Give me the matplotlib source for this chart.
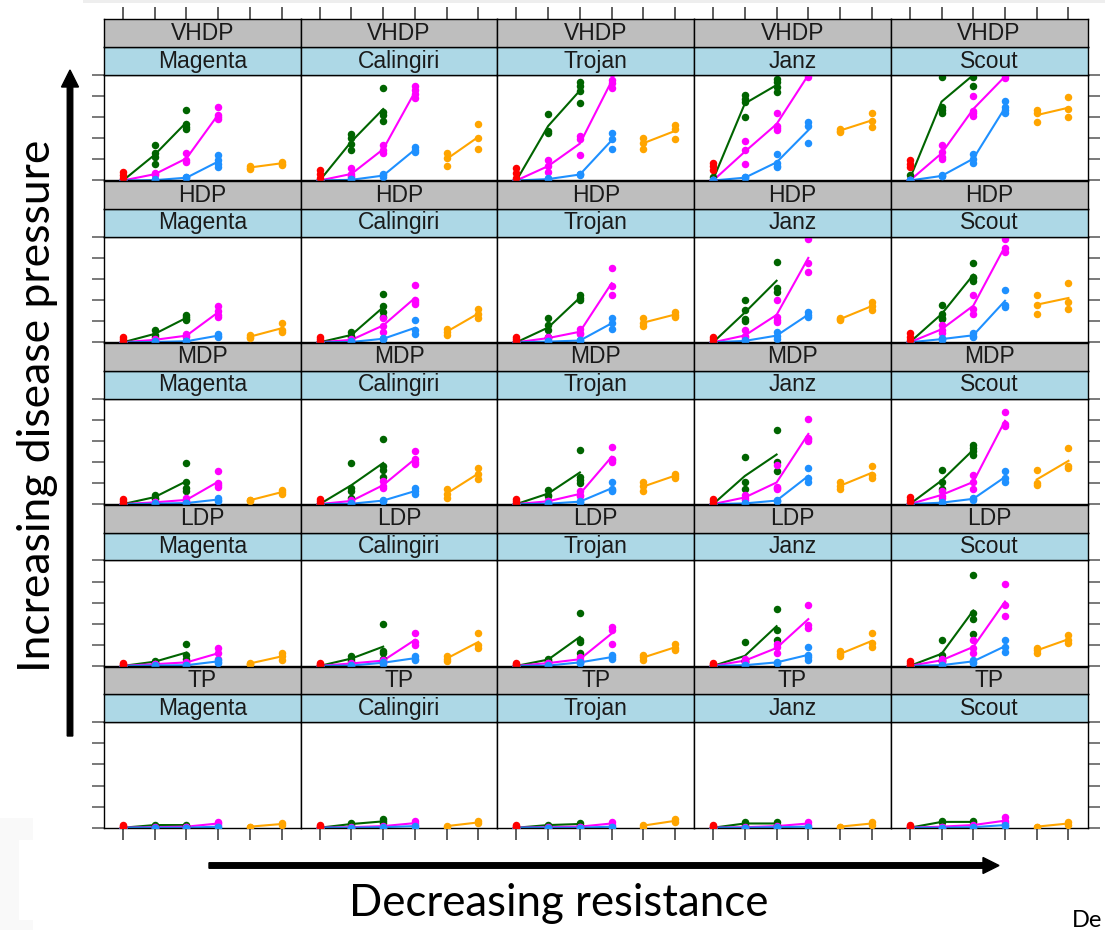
import matplotlib
matplotlib.use("Agg")
import matplotlib.pyplot as plt
import numpy as np
from matplotlib.patches import FancyArrow, Rectangle

# disease pressure levels (rows) and cultivars (columns)
levels = ["VHDP", "HDP", "MDP", "LDP", "TP"]
cultivars = ["Magenta", "Calingiri", "Trojan", "Janz", "Scout"]

# x positions of each treatment group
x_red = [1]
x_green = [1, 2, 3]
x_magenta = [1, 2, 3, 4]
x_blue = [1, 2, 3, 4]
x_orange = [5, 6]

# replicate values, per level -> per cultivar -> per x position
red = {
    "VHDP": [[[2, 5, 8]], [[2, 6, 10]], [[2, 7, 12]], [[10, 14, 17]], [[13, 16, 19]]],
    "HDP": [[[1, 3, 5]], [[1, 3, 5]], [[1, 3, 5]], [[1, 3, 5]], [[2, 5, 9]]],
    "MDP": [[[1, 3, 5]], [[1, 3, 5]], [[1, 3, 5]], [[1, 3, 5]], [[2, 4, 7]]],
    "LDP": [[[1, 2, 3]], [[1, 2, 3]], [[1, 2, 3]], [[1, 2, 3]], [[1, 3, 5]]],
    "TP": [[[1, 2, 3]], [[1, 2, 3]], [[1, 2, 3]], [[1, 2, 3]], [[1, 2, 3]]],
}

green = {
    "VHDP": [
        [[0, 0, 0], [34, 26, 22, 16], [67, 54, 51, 49]],
        [[0, 0, 0], [44, 40, 35, 29], [88, 65, 62, 56]],
        [[0, 0, 0], [63, 47, 45], [93, 90, 85, 73]],
        [[0, 0, 3], [81, 77, 74, 60], [96, 93, 89, 84]],
        [[5, 0, 0], [98, 70, 67, 64], [98, 90, 104, 108]],
    ],
    "HDP": [
        [[0, 0, 0], [12, 7, 5], [26, 24, 22, 21]],
        [[0, 0, 0], [10, 6, 5], [46, 34, 29, 24]],
        [[0, 0, 0], [23, 16, 12, 5], [45, 42, 40]],
        [[0, 0, 0], [40, 31, 20, 22], [76, 51, 48]],
        [[0, 0, 0], [35, 27, 23, 22], [75, 62, 61, 58]],
    ],
    "MDP": [
        [[0, 0, 0], [9, 6, 5], [39, 21, 15, 12]],
        [[0, 0, 0], [39, 15, 12, 6], [62, 36, 32, 26]],
        [[0, 0, 0], [13, 9, 8], [51, 26, 23, 20]],
        [[0, 0, 0], [45, 21, 14], [70, 40, 31]],
        [[0, 0, 0], [32, 21, 14], [56, 53, 50, 47]],
    ],
    "LDP": [
        [[0, 0, 0], [5, 4, 3], [21, 10, 7]],
        [[0, 0, 0], [9, 7, 5], [40, 14, 12, 7]],
        [[0, 0, 0], [7, 6, 5], [50, 25, 23, 12]],
        [[0, 0, 0], [23, 6, 4, 5], [54, 34, 25]],
        [[0, 0, 0], [25, 10, 6, 5], [86, 50, 44, 30]],
    ],
    "TP": [
        [[0, 0, 0], [2, 3], [2, 3]],
        [[0, 0, 0], [4, 3], [8, 6, 4]],
        [[0, 0, 0], [3, 2], [4, 3]],
        [[0, 0, 0], [5, 3], [5, 3]],
        [[0, 0, 0], [6, 5], [6, 5]],
    ],
}

magenta = {
    "VHDP": [
        [[0, 0, 0], [7, 5, 6], [26, 19, 18], [70, 62, 60, 58]],
        [[0, 0, 0], [12, 6, 4, 3], [34, 29, 26], [90, 86, 82, 78]],
        [[0, 0, 0], [19, 14, 8], [42, 39, 24], [102, 95, 92, 88]],
        [[0, 0, 0], [37, 29, 16], [64, 52, 50, 48], [100, 98, 102]],
        [[0, 0, 0], [34, 27, 22, 20], [80, 66, 64, 61], [97, 99, 100]],
    ],
    "HDP": [
        [[0, 0, 0], [2, 2, 3], [8, 6, 5], [34, 30, 26, 24]],
        [[0, 0, 0], [2, 2, 3], [23, 15, 10], [54, 40, 38, 36]],
        [[0, 0, 0], [5, 4, 3], [13, 9, 8], [70, 53, 45]],
        [[0, 0, 0], [12, 6, 5, 3], [40, 24, 21, 19], [98, 75, 67]],
        [[0, 0, 0], [16, 12, 9], [45, 32, 27], [98, 89, 86]],
    ],
    "MDP": [
        [[0, 0, 0], [2, 2, 1], [6, 3, 3], [31, 20, 18, 16]],
        [[0, 0, 0], [4, 3, 2], [22, 17, 15], [50, 43, 40, 38]],
        [[0, 0, 0], [3, 3, 2], [12, 9, 8], [54, 43, 42, 40]],
        [[0, 0, 0], [9, 6, 4], [37, 16, 15, 14], [81, 62, 60, 63]],
        [[0, 0, 0], [12, 8, 6], [28, 21, 14], [87, 76, 74]],
    ],
    "LDP": [
        [[0, 0, 0], [2, 2, 1], [4, 3, 3], [17, 12, 7]],
        [[0, 0, 0], [3, 2, 2], [6, 5, 4], [31, 23, 20]],
        [[0, 0, 0], [3, 3, 2], [8, 6, 5], [37, 34, 21]],
        [[0, 0, 0], [7, 4, 4], [21, 18, 12], [58, 39, 36]],
        [[0, 0, 0], [7, 5, 4], [25, 17, 12], [78, 58, 47]],
    ],
    "TP": [
        [[0, 0, 0], [1, 0], [1, 1], [5, 4, 3]],
        [[0, 0, 0], [1, 0], [2, 1], [6, 4, 3]],
        [[0, 0, 0], [1, 0], [1, 1], [5, 3]],
        [[0, 0, 0], [1, 0], [2, 1], [5, 3]],
        [[0, 0, 0], [1, 1], [3, 2], [10, 6, 4]],
    ],
}

blue = {
    "VHDP": [
        [[0, 0, 0], [0, 1, 0], [3, 2, 3], [24, 19, 16, 13]],
        [[0, 0, 0], [1, 1, 0], [6, 3, 5], [32, 29, 27]],
        [[0, 0, 0], [2, 1, 1], [6, 5, 6], [45, 39, 30]],
        [[0, 0, 0], [3, 2, 3], [25, 17, 13, 14], [55, 52, 36]],
        [[0, 0, 0], [5, 4, 4], [25, 20, 17], [75, 70, 67, 64]],
    ],
    "HDP": [
        [[0, 0, 0], [0, 1, 0], [1, 1, 1], [8, 6, 5]],
        [[0, 0, 0], [1, 0, 0], [4, 3, 3], [21, 12, 8]],
        [[0, 0, 0], [1, 1, 0], [2, 2, 1], [23, 18, 13]],
        [[0, 0, 0], [2, 1, 1], [10, 6, 3], [29, 26, 24]],
        [[0, 0, 0], [4, 3, 2], [9, 6, 5], [50, 35, 33]],
    ],
    "MDP": [
        [[0, 0, 0], [0, 0, 1], [1, 1, 1], [6, 4, 3]],
        [[0, 0, 0], [1, 0, 0], [4, 3, 3], [15, 12, 10]],
        [[0, 0, 0], [1, 0, 0], [3, 2, 2], [21, 14, 13, 12]],
        [[0, 0, 0], [1, 1, 0], [4, 3, 3], [34, 25, 21]],
        [[0, 0, 0], [2, 1, 1], [6, 5, 4], [31, 25, 21]],
    ],
    "LDP": [
        [[0, 0, 0], [0, 0, 1], [1, 1, 0], [6, 4, 3]],
        [[0, 0, 0], [1, 0, 0], [4, 3, 2], [9, 7, 6]],
        [[0, 0, 0], [1, 0, 0], [4, 3, 3], [10, 8, 7]],
        [[0, 0, 0], [1, 1, 0], [4, 3, 3], [18, 10, 8, 6]],
        [[0, 0, 0], [1, 1, 0], [6, 4, 3], [25, 18, 13]],
    ],
    "TP": [
        [[0, 0, 0], [0, 0], [0, 0], [1, 1]],
        [[0, 0, 0], [0, 0], [1, 0], [2, 1]],
        [[0, 0, 0], [0, 0], [0, 0], [1, 1]],
        [[0, 0, 0], [0, 0], [1, 0], [1, 1]],
        [[0, 0, 0], [0, 0], [1, 0], [3, 2]],
    ],
}

orange = {
    "VHDP": [[[14, 12, 11], [18, 16, 15]], [[26, 21, 14], [54, 40, 30]], [[40, 36, 30], [53, 49, 39]],
             [[49, 47, 46], [64, 56, 51]], [[67, 64, 55], [79, 68, 60]]],
    "HDP": [[[7, 5, 4], [18, 12, 10]], [[13, 10, 7], [32, 27, 23]], [[23, 18, 15], [29, 26, 24]],
            [[23, 22, 21], [38, 34, 31]], [[45, 35, 27], [56, 38, 32]]],
    "MDP": [[[4, 3, 4], [13, 11, 10]], [[14, 10, 6], [34, 29, 24]], [[21, 17, 12], [29, 27, 25]],
            [[21, 17, 14], [36, 28, 25]], [[32, 20, 18], [53, 36, 34]]],
    "LDP": [[[3, 2, 2], [12, 9, 6]], [[9, 7, 5], [31, 20, 17]], [[10, 8, 6], [21, 17, 15]],
            [[14, 11, 9], [31, 22, 18]], [[17, 15, 12], [29, 25, 22]]],
    "TP": [[[1, 1], [4, 3]], [[2, 1], [6, 4]], [[3, 1], [8, 5]], [[1, 1], [5, 3]], [[1, 1], [5, 3]]],
}

# series: data, x positions, colour, joined by a line through the means
series = [
    (green, x_green, "#006400", True),
    (magenta, x_magenta, "#ff00ff", True),
    (blue, x_blue, "#1e90ff", True),
    (orange, x_orange, "#ffa500", True),
    (red, x_red, "#ff0000", False),
]

W, H = 1105, 930
fig = plt.figure(figsize=(W / 100, H / 100), dpi=100)
plt.rcParams["font.family"] = ["Liberation Sans", "DejaVu Sans"]


def box(left, top, width, height):
    """ pixel box (from top-left) -> figure fraction rect """
    return [left / W, 1 - (top + height) / H, width / W, height / H]


COL_X0, COL_W = 104.0, 196.7
ROW_Y0, ROW_STEP, PANEL_H = 75.0, 161.8, 105.5
STRIP_H = 27.8
XLIM = (0.4, 6.6)
TICK_LEN = 8.6

for r, level in enumerate(levels):
    for c, cv in enumerate(cultivars):
        left = COL_X0 + c * COL_W
        top = ROW_Y0 + r * ROW_STEP

        ax = fig.add_axes(box(left, top, COL_W, PANEL_H))
        ax.set_xlim(*XLIM)
        ax.set_ylim(0, 100)
        ax.set_xticks([1, 2, 3, 4, 5, 6])
        ax.set_yticks([0, 20, 40, 60, 80, 100])
        ax.tick_params(axis="x", bottom=(r == len(levels) - 1), top=False,
                       labelbottom=False, direction="out", length=TICK_LEN,
                       width=1.1, color="#333333")
        ax.tick_params(axis="y", left=(c == 0), right=(c == len(cultivars) - 1),
                       labelleft=False, labelright=False, direction="out",
                       length=TICK_LEN, width=1.1, color="#555555")
        for sp in ax.spines.values():
            sp.set_linewidth(1.0)

        for data, xs, color, joined in series:
            reps = data[level][c]
            if joined:
                means = [np.mean(v) for v in reps]
                ax.plot(xs, means, color=color, lw=1.5, zorder=2)
            for x, vals in zip(xs, reps):
                ax.plot([x] * len(vals), vals, "o", color=color, ms=5.4,
                        mec="none", zorder=3)

        # strips: cultivar (light blue) and disease level (grey)
        sb = fig.add_axes(box(left, top - STRIP_H, COL_W, STRIP_H))
        sg = fig.add_axes(box(left, top - 2 * STRIP_H, COL_W, STRIP_H))
        for s, col, label in ((sb, "#add8e6", cv), (sg, "#bebebe", level)):
            s.set_facecolor(col)
            s.set_xlim(*XLIM)
            s.set_ylim(0, 1)
            s.set_yticks([])
            s.set_xticks([])
            for sp in s.spines.values():
                sp.set_linewidth(1.0)
            s.text(3.5, 0.5, label, ha="center", va="center", fontsize=16.5,
                   color="#1a1a1a")
        if r == 0:
            sg.set_xticks([1, 2, 3, 4, 5, 6])
            sg.tick_params(axis="x", top=True, bottom=False, labeltop=False,
                           labelbottom=False, direction="out", length=TICK_LEN,
                           width=1.1, color="#333333")

# overlay in pixel units for the arrows and the axis captions
ov = fig.add_axes([0, 0, 1, 1], zorder=-1)
ov.set_xlim(0, W)
ov.set_ylim(H, 0)
ov.axis("off")

ov.add_patch(Rectangle((83, 0), W - 83, 2.7, color="#eeeeee", lw=0))
ov.add_patch(Rectangle((0, 818), 33, H - 818, color="#f9f9f9", lw=0))
ov.add_patch(Rectangle((19, 840), 14, 80, color="white", lw=0))

ov.add_patch(FancyArrow(70, 736, 0, 70 - 736, width=5.5, head_width=17,
                        head_length=17, length_includes_head=True, color="black"))
ov.add_patch(FancyArrow(209, 865.5, 999 - 209, 0, width=5.5, head_width=16,
                        head_length=16, length_includes_head=True, color="black"))

ov.text(38, 406, "Increasing disease pressure", rotation=90, ha="center",
        va="center", fontsize=32, family="Lato")
ov.text(559, 903, "Decreasing resistance", ha="center", va="center",
        fontsize=31.5, family="Lato")
ov.text(1072, 927, "De", ha="left", va="baseline", fontsize=17, family="Lato")

fig.savefig("out.png", dpi=100)
